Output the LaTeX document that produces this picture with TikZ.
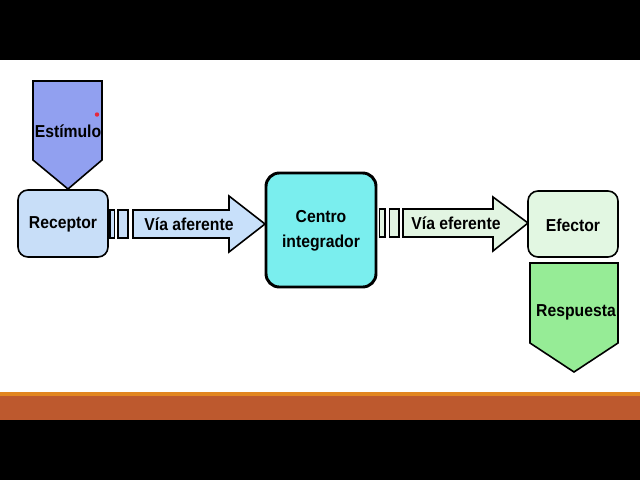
\documentclass[tikz,border=0pt]{standalone}
\usepackage{fontspec}
\setmainfont{Liberation Sans}
\begin{document}
\tikzset{every picture/.style={line width=0.75pt}}
\tikzset{label text/.style={inner sep=0.75pt, font=\bfseries\fontsize{11.8}{14}\selectfont, align=center, yscale=1.1}}

\begin{tikzpicture}[x=0.75pt,y=0.75pt,yscale=-1,xscale=1]
\path (0,0) rectangle (640,480); %set diagram to the frame

%Background [id:bg]
\fill [black] (0,0) rectangle (640,480) ;
\fill [white] (0,60) rectangle (640,392) ;
%Bottom band
\fill [color={rgb, 255:red, 226; green, 134; blue, 32 }] (0,392) rectangle (640,396) ;
\fill [color={rgb, 255:red, 189; green, 89; blue, 46 }] (0,396) rectangle (640,420) ;

%Shape: Pentagon Arrow [id:estimulo]
\draw  [line width=1.2pt, fill={rgb, 255:red, 145; green, 160; blue, 240 }] (33,81) -- (102,81) -- (102,160) -- (68,189) -- (33,160) -- cycle ;
%Shape: Red dot
\fill [color={rgb, 255:red, 230; green, 40; blue, 60 }] (97,114.5) circle (2.2) ;
%Rounded Rect [id:receptor]
\draw  [line width=1.2pt, rounded corners=7.5pt, fill={rgb, 255:red, 200; green, 222; blue, 248 }] (18,190) rectangle (108,257) ;
%Small bars
\draw  [line width=1.2pt, fill={rgb, 255:red, 200; green, 222; blue, 248 }] (110,210) rectangle (114.5,238) ;
\draw  [line width=1.2pt, fill={rgb, 255:red, 200; green, 222; blue, 248 }] (118,210) rectangle (128,238) ;
%Block Arrow [id:aferente]
\draw  [line width=1.2pt, fill={rgb, 255:red, 200; green, 224; blue, 250 }] (133,210) -- (229,210) -- (229,196) -- (265,224) -- (229,252) -- (229,238) -- (133,238) -- cycle ;
%Rounded Rect [id:centro]
\draw  [line width=2.2pt, rounded corners=10pt, fill={rgb, 255:red, 122; green, 238; blue, 238 }] (266,173) rectangle (376,287) ;
%Small bars
\draw  [line width=1.2pt, fill={rgb, 255:red, 226; green, 245; blue, 226 }] (379.5,209) rectangle (385,237) ;
\draw  [line width=1.2pt, fill={rgb, 255:red, 226; green, 245; blue, 226 }] (389.5,209) rectangle (399,237) ;
%Block Arrow [id:eferente]
\draw  [line width=1.2pt, fill={rgb, 255:red, 226; green, 245; blue, 226 }] (403,209) -- (493,209) -- (493,197) -- (528,223) -- (493,251) -- (493,237) -- (403,237) -- cycle ;
%Rounded Rect [id:efector]
\draw  [line width=1.2pt, rounded corners=7.5pt, fill={rgb, 255:red, 226; green, 247; blue, 226 }] (528,191) rectangle (618,257) ;
%Shape: Pentagon Arrow [id:respuesta]
\draw  [line width=1.2pt, fill={rgb, 255:red, 150; green, 236; blue, 150 }] (530,263) -- (618,263) -- (618,343) -- (574,372) -- (530,343) -- cycle ;

% Text Node
\draw (68,131) node [label text] (tEstimulo) {Estímulo};
% Text Node
\draw (63,224) node [label text] (tReceptor) {Receptor};
% Text Node
\draw (189,224) node [label text] (tAferente) {Vía aferente};
% Text Node
\draw (321,231) node [label text] (tCentro) {Centro\\[3pt]integrador};
% Text Node
\draw (456,223) node [label text] (tEferente) {Vía eferente};
% Text Node
\draw (573,225) node [label text] (tEfector) {Efector};
% Text Node
\draw (576,312) node [label text] (tRespuesta) {Respuesta};

\end{tikzpicture}
\end{document}
